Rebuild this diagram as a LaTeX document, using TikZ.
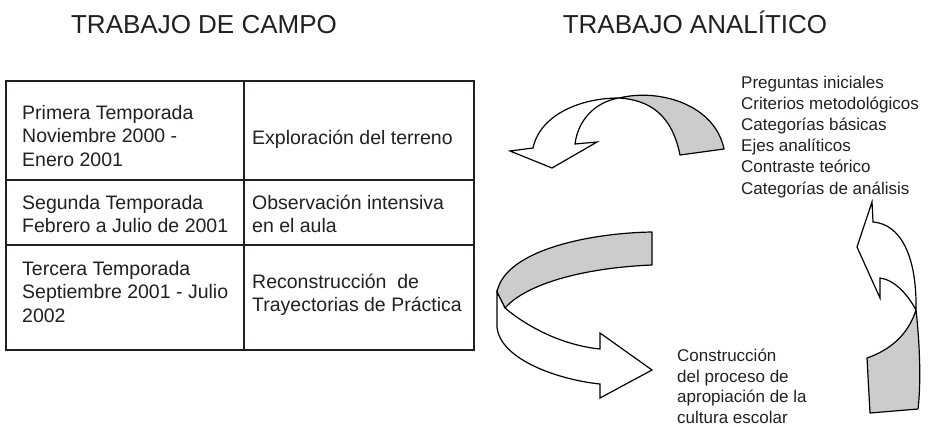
\documentclass[tikz,border=0pt]{standalone}
\usepackage{fontspec}
\setmainfont{Liberation Sans}
\definecolor{inkgray}{HTML}{231F20}
\definecolor{bandgray}{HTML}{CCCCCC}
\begin{document}
\begin{tikzpicture}[x=1pt,y=-1pt,
		cell/.style={anchor=base west, inner sep=0pt, align=left, text=inkgray, font=\fontsize{19.5}{23.5}\selectfont},
		listtext/.style={anchor=base west, inner sep=0pt, align=left, text=inkgray, font=\fontsize{17}{21.2}\selectfont},
		title/.style={anchor=base, inner sep=0pt, text=inkgray, font=\fontsize{26}{30}\selectfont},
		band/.style={fill=bandgray, draw=black, line width=1.2pt, line join=round},
		front/.style={fill=white, draw=black, line width=1.2pt, line join=miter}]

	\useasboundingbox (0,0) rectangle (928,426);

	%titles
	\node[title] (campoTitle) at (204,33) {TRABAJO DE CAMPO};
	\node[title] (analiticoTitle) at (695,33) {TRABAJO ANALÍTICO};

	%table of seasons
	\coordinate (tabNW) at (6,81);
	\coordinate (tabNE) at (474,81);
	\coordinate (tabSW) at (6,350);
	\coordinate (tabSE) at (474,350);
	\coordinate (midTop) at (244,81);
	\coordinate (midBottom) at (244,350);
	\draw[inkgray, line width=1.1pt] (tabNW) rectangle (tabSE);
	\draw[inkgray, line width=1.1pt] (midTop) -- (midBottom);
	\draw[inkgray, line width=1.1pt] (6,180) -- (474,180);
	\draw[inkgray, line width=1.1pt] (6,245) -- (474,245);
	%season cells, placed at the baseline of their last line
	\node[cell] (season1) at (22,166) {Primera Temporada\\Noviembre 2000 -\\Enero 2001};
	\node[cell] (season2) at (22,232.5) {Segunda Temporada\\Febrero a Julio de 2001};
	\node[cell] (season3) at (22,322) {Tercera Temporada\\Septiembre 2001 - Julio\\2002};
	\node[cell] (task1) at (252,144) {Exploración del terreno};
	\node[cell] (task2) at (252,232.5) {Observación intensiva\\en el aula};
	\node[cell] (task3) at (252,311.5) {Reconstrucción~ de\\Trayectorias de Práctica};

	%analytic work texts
	\node[listtext] (analisisList) at (741,194) {Preguntas iniciales\\Criterios metodológicos\\Categorías básicas\\Ejes analíticos\\Contraste teórico\\Categorías de análisis};
	\node[listtext, font=\fontsize{17}{20.5}\selectfont] (construccion) at (677,423) {Construcción\\del proceso de\\apropiación de la\\cultura escolar};

	%upper arrow, twisted band turning to the left
	\coordinate (twistA) at (619,98);
	\coordinate (bandAend1) at (724,149);
	\coordinate (bandAend2) at (680,155);
	\coordinate (headAout) at (533,148);
	\coordinate (headAtip) at (552,168);
	\coordinate (headAin) at (575,144);
	\draw[band] (twistA) .. controls (660,88) and (715,105) .. (bandAend1) -- (bandAend2) .. controls (672,115) and (650,100) .. (twistA) -- cycle;
	\draw[front] (twistA) .. controls (580,98) and (540,115) .. (headAout) -- (510,151) -- (headAtip) -- (597,142) -- (headAin) .. controls (578,120) and (595,102) .. (twistA) -- cycle;

	%lower arrow, band coming round to the right
	\coordinate (bandBend1) at (652,232);
	\coordinate (bandBend2) at (652,265);
	\coordinate (twistB1) at (497,292);
	\coordinate (twistB2) at (505,308);
	\coordinate (headBtip) at (652,370);
	\draw[band] (bandBend1) .. controls (590,233) and (505,250) .. (twistB1) -- (twistB2) .. controls (525,285) and (580,268) .. (bandBend2) -- cycle;
	\draw[front] (twistB1) -- (497,327) .. controls (500,360) and (560,380) .. (600,384) -- (600,398) -- (headBtip) -- (600,333) -- (600,349) .. controls (560,345) and (525,325) .. (twistB2) -- cycle;

	%right arrow, band going up
	\coordinate (twistC) at (916,310);
	\coordinate (bandCend1) at (918,409);
	\coordinate (bandCend2) at (870,413);
	\coordinate (bandCend3) at (867,358);
	\coordinate (headCtip) at (872,202);
	\draw[band] (twistC) .. controls (920,345) and (921,385) .. (bandCend1) -- (bandCend2) -- (bandCend3) .. controls (890,350) and (908,335) .. (twistC) -- cycle;
	\draw[front] (873,222) -- (headCtip) -- (857,247) -- (880,298) -- (880,278) .. controls (895,280) and (908,295) .. (twistC) .. controls (917,255) and (900,224) .. (873,222) -- cycle;

\end{tikzpicture}
\end{document}
